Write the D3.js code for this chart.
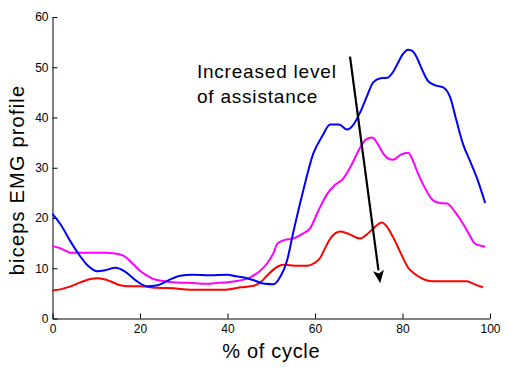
<!DOCTYPE html>
<html><head><meta charset="utf-8">
<script src="https://cdn.jsdelivr.net/npm/d3@7"></script>
<style>body{margin:0;background:#fff}svg{display:block}text{font-family:"Liberation Sans",Arial,sans-serif}</style>
</head><body><svg id="c" width="520" height="375"></svg>
<script>
const xTicks=[0,20,40,60,80,100];
const yTicks=[0,10,20,30,40,50,60];
const blue=[[0,20.8],[2,18.5],[4,15.5],[6,12.8],[8,10.6],[10.3,9.4],[12,9.6],[14.4,10.1],[16.5,9.4],[19,7.6],[21.7,6.4],[24,6.6],[26.5,7.6],[29.2,8.5],[32,8.7],[36,8.6],[40,8.7],[42,8.4],[44,8.1],[46,7.6],[48.5,6.9],[50.5,6.8],[52,8.2],[53.6,11.5],[55,17],[57.3,25.4],[59.6,32.8],[61.6,36.2],[63.5,38.6],[65.5,38.6],[67.3,37.6],[68.8,38.6],[70.3,41],[72,44.5],[73.3,47],[75,47.8],[76.5,47.9],[77.8,49],[78.8,50.6],[80,52.5],[81.3,53.5],[82.3,53.2],[83.3,51.9],[84.5,49.5],[85.8,47.3],[87.5,46.4],[89.3,46],[90.9,44],[92.3,39.5],[93.8,34.8],[95.5,31.2],[97,28],[98.9,23]];
const magenta=[[0,14.4],[2,13.9],[4.1,13.1],[8,13.1],[12,13.1],[13.7,13],[16.2,12.5],[18,11.2],[20,9.5],[21.5,8.6],[23,7.9],[25,7.5],[27.6,7.2],[31,7.1],[35.3,6.9],[38,7.1],[40,7.2],[42.5,7.5],[45.2,8.2],[47.2,9.3],[49,10.9],[50.5,13],[51.4,14.9],[53,15.6],[55,15.9],[57,16.8],[58.9,18],[60.8,21.5],[62.8,24.8],[64.6,26.6],[66.4,27.8],[68.3,30.5],[70.3,34],[71.6,35.6],[73,36],[74.3,34.8],[75.6,32.8],[76.8,31.8],[77.9,31.6],[79.6,32.6],[81.3,33],[82.3,31.6],[83.3,29.4],[85,26.2],[87,23.5],[88.5,23],[90.2,22.9],[92,21.2],[93.8,18.9],[95.2,16.8],[96.6,14.9],[98.9,14.3]];
const red=[[0,5.6],[1.8,5.8],[3.4,6.2],[5,6.7],[6.4,7.2],[8.4,7.8],[10.3,8],[11.8,7.8],[13.2,7.4],[15.5,6.6],[17.5,6.4],[20,6.4],[24,6.1],[27.6,6],[31.5,5.7],[35,5.7],[39,5.7],[43,6.2],[46,6.5],[47.8,7.4],[49,8.5],[51.4,10.3],[52.7,10.7],[54.3,10.6],[56,10.5],[58.2,10.5],[59.8,11],[61.2,12.1],[62.3,14],[63.5,15.9],[65.8,17.3],[67.8,16.8],[70.3,15.9],[71.8,16.7],[73.3,17.9],[75.3,19.1],[76.5,18.2],[77.9,16.1],[79.6,13],[81.3,10.1],[82.6,9],[84,8.2],[85.5,7.6],[87,7.4],[91,7.4],[94.7,7.4],[96.5,6.8],[98.4,6.2]];
const arrow=[[68,52.1],[74.9,7]];
const labels={x:"% of cycle",y:"biceps EMG profile",note:["Increased level","of assistance"]};

const svg=d3.select("#c");
const x=d3.scaleLinear().domain([0,100]).range([52.5,490]);
const y=d3.scaleLinear().domain([0,60]).range([318.5,17]);

const xa=svg.append("g").attr("transform","translate(0,318.5)")
 .call(d3.axisBottom(x).tickValues(xTicks).tickSizeInner(-5).tickSizeOuter(0).tickPadding(4));
const ya=svg.append("g").attr("transform","translate(52.5,0)")
 .call(d3.axisLeft(y).tickValues(yTicks).tickSizeInner(-5).tickSizeOuter(0).tickPadding(4));
[xa,ya].forEach(a=>{a.selectAll("text").attr("font-size",12).attr("fill","#000").attr("font-family","Liberation Sans,Arial");
 a.selectAll("line,path").attr("stroke","#000");});
xa.selectAll("text").attr("dy","0.9em");

const line=d3.line().x(d=>x(d[0])).y(d=>y(d[1])).curve(d3.curveMonotoneX);
[[red,"#ff0000"],[magenta,"#ff00ff"],[blue,"#0000ff"]].forEach(([d,c])=>{
 svg.append("path").datum(d).attr("d",line).attr("fill","none").attr("stroke",c).attr("stroke-width",2);
});

// arrow
const ax0=x(arrow[0][0]),ay0=y(arrow[0][1]),ax1=x(arrow[1][0]),ay1=y(arrow[1][1]);
const ang=Math.atan2(ay1-ay0,ax1-ax0);
const hl=13,hw=5.5;
const bx=ax1-hl*Math.cos(ang),by=ay1-hl*Math.sin(ang);
svg.append("line").attr("x1",ax0).attr("y1",ay0).attr("x2",bx).attr("y2",by).attr("stroke","#000").attr("stroke-width",2.2);
svg.append("path").attr("d",`M${ax1},${ay1}L${bx+hw*Math.sin(ang)},${by-hw*Math.cos(ang)}L${bx+3*Math.cos(ang)},${by+3*Math.sin(ang)}L${bx-hw*Math.sin(ang)},${by+hw*Math.cos(ang)}Z`).attr("fill","#000");

svg.append("text").attr("x",x(33)).attr("y",78).attr("font-size",19).attr("letter-spacing",0.8).text(labels.note[0]);
svg.append("text").attr("x",x(33)).attr("y",103).attr("font-size",19).attr("letter-spacing",0.8).text(labels.note[1]);
svg.append("text").attr("x",x(50)).attr("y",358).attr("text-anchor","middle").attr("font-size",20).attr("letter-spacing",0.7).text(labels.x);
svg.append("text").attr("transform",`translate(24,180) rotate(-90)`).attr("text-anchor","middle").attr("font-size",20).attr("letter-spacing",1.2).text(labels.y);
</script></body></html>
